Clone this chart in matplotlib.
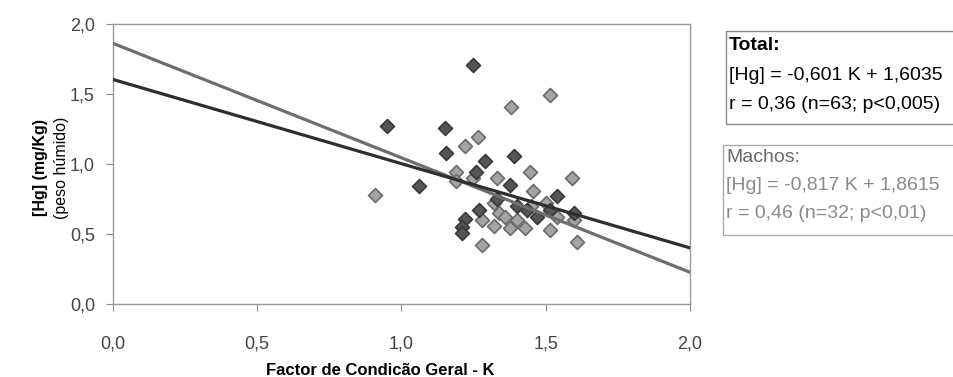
import matplotlib.pyplot as plt
import numpy as np
from matplotlib.patches import Rectangle

plt.rcParams['font.family'] = ['Liberation Sans', 'DejaVu Sans']

# pontos escuros
dark_x = [1.25, 0.95, 1.15, 1.155, 1.06, 1.29, 1.26, 1.39, 1.22, 1.21, 1.21,
          1.27, 1.375, 1.435, 1.515, 1.54, 1.33, 1.40, 1.47, 1.60]
dark_y = [1.71, 1.27, 1.26, 1.08, 0.84, 1.02, 0.94, 1.06, 0.61, 0.55, 0.51,
          0.67, 0.85, 0.67, 0.67, 0.77, 0.75, 0.70, 0.62, 0.65]

# pontos claros
light_x = [0.91, 1.265, 1.22, 1.38, 1.515, 1.19, 1.19, 1.33, 1.445, 1.455,
           1.59, 1.60, 1.515, 1.61, 1.28, 1.32, 1.34, 1.32, 1.375, 1.43,
           1.40, 1.50, 1.54, 1.28, 1.36, 1.45, 1.25]
light_y = [0.78, 1.19, 1.13, 1.41, 1.49, 0.94, 0.88, 0.90, 0.94, 0.81,
           0.90, 0.60, 0.53, 0.44, 0.42, 0.72, 0.65, 0.56, 0.54, 0.54,
           0.60, 0.72, 0.62, 0.60, 0.62, 0.70, 0.90]

# regressoes
total_slope, total_icpt = -0.601, 1.6035
machos_slope, machos_icpt = -0.817, 1.8615

fig = plt.figure(figsize=(9.54, 3.77), dpi=100)
ax = fig.add_axes([0.1185, 0.1936, 0.6045, 0.7428])

ax.scatter(light_x, light_y, marker='D', s=50, facecolor='#a4a4a4',
           edgecolor='#6a6a6a', linewidth=1.2, zorder=3)
ax.scatter(dark_x, dark_y, marker='D', s=50, facecolor='#555555',
           edgecolor='#383838', linewidth=1.2, zorder=3)

xx = np.array([0.0, 2.0])
ax.plot(xx, machos_slope * xx + machos_icpt, color='#6e6e6e', lw=2.3, zorder=4)
ax.plot(xx, total_slope * xx + total_icpt, color='#2e2e2e', lw=2.3, zorder=4)

ax.set_xlim(0, 2)
ax.set_ylim(0, 2)
ticks = [0.0, 0.5, 1.0, 1.5, 2.0]
labels = ['0,0', '0,5', '1,0', '1,5', '2,0']
ax.set_xticks(ticks, labels)
ax.set_yticks(ticks, labels)
for s in ax.spines.values():
    s.set_color('#9a9a9a')
    s.set_linewidth(1.0)
ax.tick_params(axis='both', direction='out', length=5, color='#8a8a8a',
               labelsize=13, labelcolor='#444444')
ax.tick_params(axis='x', pad=18)
ax.tick_params(axis='y', pad=8)

ax.set_xlabel('Factor de Condicão Geral - K', fontsize=12, fontweight='bold')
ax.xaxis.set_label_coords(0.463, -0.21)
fig.text(0.042, 0.555, '[Hg] (mg/Kg)', rotation=90, fontsize=11.5,
         fontweight='bold', ha='center', va='center')
fig.text(0.064, 0.555, '(peso húmido)', rotation=90, fontsize=11.5,
         ha='center', va='center')

# caixas de texto
fig.patches.append(Rectangle((0.761, 0.671), 0.25, 0.247, transform=fig.transFigure,
                             facecolor='white', edgecolor='#888888', lw=1.0))
fig.patches.append(Rectangle((0.758, 0.377), 0.25, 0.238, transform=fig.transFigure,
                             facecolor='white', edgecolor='#aaaaaa', lw=1.0))

fig.text(0.764, 0.878, 'Total:', fontsize=14, fontweight='bold', va='center')
fig.text(0.764, 0.801, '[Hg] = -0,601 K + 1,6035', fontsize=14, va='center')
fig.text(0.764, 0.724, 'r = 0,36 (n=63; p<0,005)', fontsize=14, va='center')

fig.text(0.761, 0.581, 'Machos:', fontsize=14, color='#6a6a6a', va='center')
fig.text(0.761, 0.509, '[Hg] = -0,817 K + 1,8615', fontsize=14, color='#8a8a8a', va='center')
fig.text(0.761, 0.435, 'r = 0,46 (n=32; p<0,01)', fontsize=14, color='#8a8a8a', va='center')

fig.savefig('out.png', dpi=100)
